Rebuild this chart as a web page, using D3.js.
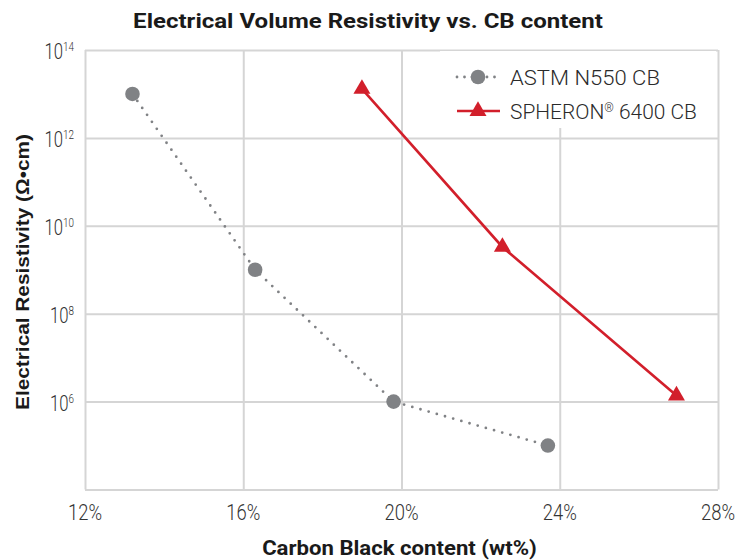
<!DOCTYPE html>
<html>
<head>
<meta charset="utf-8">
<script src="https://cdn.jsdelivr.net/npm/d3@7"></script>
<style>
  html, body { margin: 0; padding: 0; background: #fff; }
  svg { display: block; }
</style>
</head>
<body>
<svg id="chart" width="737" height="560"></svg>
<script>
// ---- data ----
const xTicks = [12, 16, 20, 24, 28];
const xTickLabels = ["12%", "16%", "20%", "24%", "28%"];
const yTickExps = [4, 6, 8, 10, 12, 14];
const yLabelExps = [6, 8, 10, 12, 14];

const astmX = [13.2, 16.3, 19.8, 23.7];
const astmY = [1e13, 1e9, 1e6, 1e5];

const spheronX = [19.0, 22.55, 26.95];
const spheronY = [1.3e13, 3.3e9, 1.37e6];

const seriesNames = ["ASTM N550 CB", "SPHERON", "\u00AE", " 6400 CB"];

// ---- layout ----
const W = 737, H = 560;
const m = { left: 85, right: 19, top: 50, bottom: 70.5 };
const svg = d3.select("#chart");
const gridColor = "#d5d5d5";
const grayC = "#808285";
const redC = "#d21f2b";

const x = d3.scaleLinear().domain([12, 28]).range([m.left, W - m.right]);
const y = d3.scaleLog().domain([1e4, 1e14]).range([H - m.bottom, m.top]);

// grid lines via axes
svg.append("g")
  .attr("transform", `translate(0,${H - m.bottom})`)
  .call(d3.axisBottom(x).tickValues(xTicks).tickSize(-(H - m.bottom - m.top)).tickFormat(""))
  .call(g => g.select(".domain").remove())
  .call(g => g.selectAll(".tick line").attr("stroke", gridColor).attr("stroke-width", 2));

svg.append("g")
  .attr("transform", `translate(${m.left},0)`)
  .call(d3.axisLeft(y).tickValues(yTickExps.map(e => Math.pow(10, e))).tickSize(-(W - m.left - m.right)).tickFormat(""))
  .call(g => g.select(".domain").remove())
  .call(g => g.selectAll(".tick line").attr("stroke", gridColor).attr("stroke-width", 2));

function fitX(sel, target) {
  sel.each(function () {
    const L = this.getComputedTextLength();
    const k = target / L;
    const t = this.getAttribute("data-t") || "";
    this.setAttribute("transform", `${t} scale(${k},1)`);
  });
}

// x tick labels
xTicks.forEach((v, i) => {
  const t = svg.append("text")
    .attr("text-anchor", "middle")
    .attr("font-family", "Roboto")
    .attr("font-weight", 300)
    .attr("font-size", 22)
    .attr("fill", "#333")
    .attr("data-t", `translate(${x(v)},520)`)
    .text(xTickLabels[i]);
  fitX(t, 34);
});

// y tick labels
yLabelExps.forEach(e => {
  const yy = y(Math.pow(10, e));
  const t = svg.append("text")
    .attr("text-anchor", "end")
    .attr("font-family", "Roboto")
    .attr("font-weight", 300)
    .attr("font-size", 22)
    .attr("fill", "#333");
  t.append("tspan").text("10");
  t.append("tspan").attr("font-size", 13).attr("dy", -8).text(String(e));
  t.attr("transform", `translate(74,${yy + 9}) scale(0.76,1)`);
});

// legend background
svg.append("rect")
  .attr("x", 440).attr("y", 51).attr("width", 276).attr("height", 77)
  .attr("fill", "#fff");

// lines
const line = d3.line().x(d => x(d[0])).y(d => y(d[1]));
const astm = astmX.map((v, i) => [v, astmY[i]]);
const sph = spheronX.map((v, i) => [v, spheronY[i]]);

svg.append("path").datum(astm)
  .attr("d", line)
  .attr("fill", "none")
  .attr("stroke", grayC)
  .attr("stroke-width", 2.8)
  .attr("stroke-linecap", "round")
  .attr("stroke-dasharray", "0 8.5");

svg.selectAll(".astm").data(astm).enter().append("circle")
  .attr("cx", d => x(d[0])).attr("cy", d => y(d[1]))
  .attr("r", 7.3).attr("fill", grayC);

svg.append("path").datum(sph)
  .attr("d", line)
  .attr("fill", "none")
  .attr("stroke", redC)
  .attr("stroke-width", 2.6);

const tri = d3.symbol().type(d3.symbolTriangle).size(125);
svg.selectAll(".sph").data(sph).enter().append("path")
  .attr("d", tri)
  .attr("transform", d => `translate(${x(d[0])},${y(d[1])})`)
  .attr("fill", redC);

// legend
const lx0 = 457, lx1 = 500, lxm = 478, ltx = 510;
const r1 = 77, r2 = 111;
svg.append("line")
  .attr("x1", lx0).attr("x2", lx1).attr("y1", r1).attr("y2", r1)
  .attr("stroke", grayC).attr("stroke-width", 2.8)
  .attr("stroke-linecap", "round").attr("stroke-dasharray", "0 7.5");
svg.append("circle").attr("cx", lxm).attr("cy", r1).attr("r", 7.3).attr("fill", grayC);
svg.append("line")
  .attr("x1", lx0).attr("x2", lx1).attr("y1", r2).attr("y2", r2)
  .attr("stroke", redC).attr("stroke-width", 2.6);
svg.append("path").attr("d", tri).attr("transform", `translate(${lxm},${r2})`).attr("fill", redC);

const lt1 = svg.append("text")
  .attr("font-family", "Roboto").attr("font-weight", 300).attr("font-size", 21)
  .attr("fill", "#2a2a2a")
  .attr("data-t", `translate(${ltx},${r1 + 8})`)
  .text(seriesNames[0]);
fitX(lt1, 150);

const lt2 = svg.append("text")
  .attr("font-family", "Roboto").attr("font-weight", 300).attr("font-size", 21)
  .attr("fill", "#2a2a2a")
  .attr("data-t", `translate(${ltx},${r2 + 8})`);
lt2.append("tspan").text(seriesNames[1]);
lt2.append("tspan").attr("font-size", 12).attr("dy", -7).text(seriesNames[2]);
lt2.append("tspan").attr("dy", 7).text(seriesNames[3]);
fitX(lt2, 187);

// titles
const title = svg.append("text")
  .attr("text-anchor", "middle")
  .attr("font-family", "Roboto").attr("font-weight", 700).attr("font-size", 20)
  .attr("fill", "#1a1a1a")
  .attr("data-t", "translate(368,28)")
  .text("Electrical Volume Resistivity vs. CB content");
fitX(title, 470);

const xt = svg.append("text")
  .attr("text-anchor", "middle")
  .attr("font-family", "Roboto").attr("font-weight", 700).attr("font-size", 20)
  .attr("fill", "#1a1a1a")
  .attr("data-t", "translate(399.5,555)")
  .text("Carbon Black content (wt%)");
fitX(xt, 275);

const yt = svg.append("text")
  .attr("text-anchor", "middle")
  .attr("font-family", "Liberation Sans, Arial, sans-serif").attr("font-weight", 700).attr("font-size", 19)
  .attr("fill", "#1a1a1a")
  .attr("data-t", "translate(28.5,272) rotate(-90)")
  .text("Electrical Resistivity (\u03A9\u2022cm)");
fitX(yt, 276);
</script>
</body>
</html>
